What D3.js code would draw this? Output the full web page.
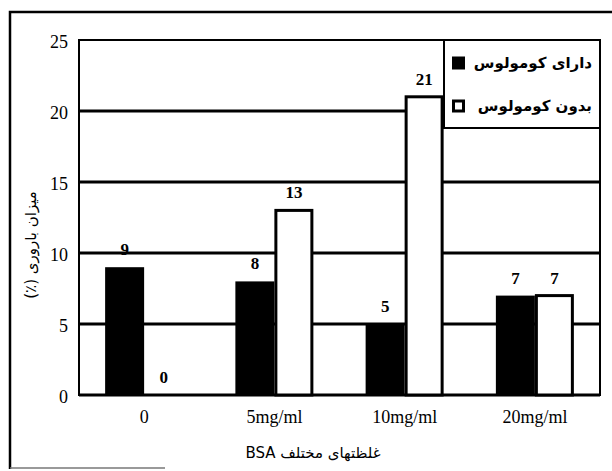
<!DOCTYPE html>
<html>
<head>
<meta charset="utf-8">
<script src="https://cdn.jsdelivr.net/npm/d3@7"></script>
<style>
  body { margin: 0; background: #fff; }
  svg { display: block; }
</style>
</head>
<body>
<div id="vis"></div>
<script>
// data
const categories = ["0", "5mg/ml", "10mg/ml", "20mg/ml"];
const seriesNames = ["دارای کومولوس", "بدون کومولوس"];
const withCumulus = [9, 8, 5, 7];
const withoutCumulus = [0, 13, 21, 7];
const yTicks = [0, 5, 10, 15, 20, 25];

const W = 612, H = 471;
const plotLeft = 79, plotRight = 600, plotTop = 40, plotBottom = 395;
const serif = "'Liberation Serif', 'Times New Roman', serif";
const arabic = "'DejaVu Sans', sans-serif";

const svg = d3.select("#vis").append("svg")
  .attr("width", W)
  .attr("height", H);

const rows = categories.map((c, i) => ({ cat: c, values: [withCumulus[i], withoutCumulus[i]] }));

const x0 = d3.scaleBand().domain(categories).range([plotLeft, plotRight]).padding(0);
const barW = 39;
const x1 = d3.scaleBand().domain([0, 1])
  .range([x0.bandwidth() / 2 - barW, x0.bandwidth() / 2 + barW]).padding(0);
const y = d3.scaleLinear().domain([0, 25]).range([plotBottom, plotTop]);

// outer frame of the scanned figure
svg.append("path")
  .attr("d", `M10,469 L10,12 L612,12`)
  .attr("fill", "none")
  .attr("stroke", "#000")
  .attr("stroke-width", 2.5);
svg.append("line")
  .attr("x1", 10).attr("x2", 165).attr("y1", 468).attr("y2", 468)
  .attr("stroke", "#777").attr("stroke-width", 1.5);

// gridlines (bars sit on top of them)
svg.append("g").selectAll("line")
  .data(yTicks.filter(d => d > 0 && d < 25))
  .enter()
  .append("line")
  .attr("x1", plotLeft).attr("x2", plotRight)
  .attr("y1", d => y(d)).attr("y2", d => y(d))
  .attr("stroke", "#000")
  .attr("stroke-width", 3);

// plot box
svg.append("rect")
  .attr("x", plotLeft).attr("y", plotTop)
  .attr("width", plotRight - plotLeft).attr("height", plotBottom - plotTop)
  .attr("fill", "none")
  .attr("stroke", "#000")
  .attr("stroke-width", 2);
svg.append("line")
  .attr("x1", plotLeft).attr("x2", plotRight)
  .attr("y1", plotBottom).attr("y2", plotBottom)
  .attr("stroke", "#000").attr("stroke-width", 3);

// bars
const groups = svg.append("g").selectAll("g")
  .data(rows)
  .enter()
  .append("g")
  .attr("transform", d => `translate(${x0(d.cat)},0)`);

groups.selectAll("rect")
  .data(d => d.values.map((v, i) => ({ v, i })).filter(b => b.v > 0))
  .enter()
  .append("rect")
  .attr("x", d => x1(d.i) + (d.i === 1 ? 1.5 : 0))
  .attr("y", d => y(d.v))
  .attr("width", d => x1.bandwidth() - (d.i === 1 ? 3 : 0))
  .attr("height", d => y(0) - y(d.v))
  .attr("fill", d => d.i === 0 ? "#000" : "#fff")
  .attr("stroke", d => d.i === 0 ? "none" : "#000")
  .attr("stroke-width", 3);

// value labels above bars
groups.selectAll("text")
  .data(d => d.values.map((v, i) => ({ v, i })))
  .enter()
  .append("text")
  .attr("x", d => x1(d.i) + x1.bandwidth() / 2)
  .attr("y", d => y(d.v) - 12)
  .attr("text-anchor", "middle")
  .style("font-family", serif)
  .style("font-weight", "bold")
  .style("font-size", "17px")
  .text(d => d.v);

// y axis labels
const yAxis = svg.append("g")
  .attr("transform", `translate(${plotLeft},0)`)
  .call(d3.axisLeft(y).tickValues(yTicks).tickSize(0).tickPadding(11));
yAxis.select(".domain").remove();
yAxis.selectAll("text")
  .attr("dy", "0.4em")
  .style("font-family", serif)
  .style("font-size", "18px")
  .style("fill", "#000");

// x axis labels
const xAxis = svg.append("g")
  .attr("transform", `translate(0,${plotBottom})`)
  .call(d3.axisBottom(x0).tickSize(0).tickPadding(12));
xAxis.select(".domain").remove();
xAxis.selectAll("text")
  .attr("dy", "0.9em")
  .style("font-family", serif)
  .style("font-size", "18px")
  .style("fill", "#000");

// axis titles
svg.append("text")
  .attr("transform", "translate(36,245) rotate(-90)")
  .attr("text-anchor", "middle")
  .attr("direction", "rtl")
  .style("font-family", arabic)
  .style("font-size", "15px")
  .text("میزان باروری (٪)");

svg.append("text")
  .attr("x", 313)
  .attr("y", 458)
  .attr("text-anchor", "middle")
  .attr("direction", "rtl")
  .style("font-family", arabic)
  .style("font-size", "15px")
  .text("غلظتهای مختلف BSA");

// legend in the top right corner of the plot
const legend = svg.append("g");
legend.append("rect")
  .attr("x", 444).attr("y", plotTop)
  .attr("width", plotRight - 444).attr("height", 88)
  .attr("fill", "#fff")
  .attr("stroke", "#000")
  .attr("stroke-width", 2);

const items = legend.selectAll("g.item")
  .data(seriesNames)
  .enter()
  .append("g")
  .attr("class", "item")
  .attr("transform", (d, i) => `translate(0,${63 + i * 43})`);

items.append("rect")
  .attr("x", (d, i) => i === 0 ? 452 : 453.5)
  .attr("y", (d, i) => i === 0 ? -6.5 : -5)
  .attr("width", (d, i) => i === 0 ? 13 : 10)
  .attr("height", (d, i) => i === 0 ? 13 : 10)
  .attr("fill", (d, i) => i === 0 ? "#000" : "#fff")
  .attr("stroke", (d, i) => i === 0 ? "none" : "#000")
  .attr("stroke-width", 3);

items.append("text")
  .attr("x", 592)
  .attr("dy", "0.35em")
  .attr("text-anchor", "end")
  .style("font-family", arabic)
  .style("font-weight", "bold")
  .style("font-size", "15px")
  .text(d => d);
</script>
</body>
</html>
